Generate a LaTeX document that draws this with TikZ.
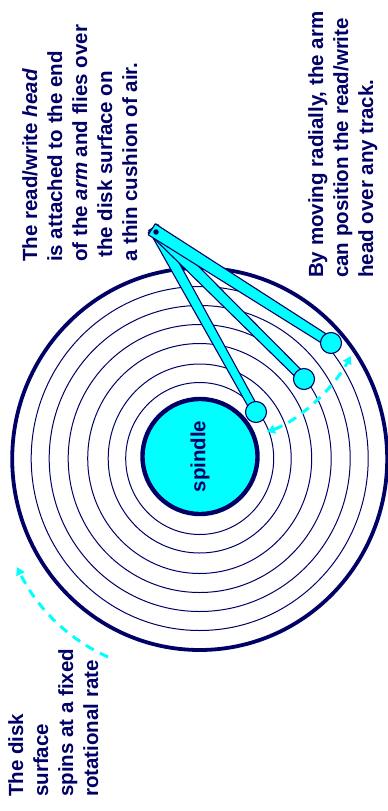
\documentclass[tikz,border=0pt]{standalone}
\definecolor{disknavy}{RGB}{0, 0, 102}
\definecolor{diskcyan}{RGB}{0, 255, 255}
\usepackage{tikz}
\usetikzlibrary{shapes.geometric, arrows.meta, calc}
\usepackage{xcolor}
\usepackage{fontspec}
\setmainfont{Liberation Sans}

\begin{document}
\begin{tikzpicture}[
        x=1pt, y=-1pt,
        ring/.style={ellipse, draw=disknavy, line width=1pt, inner sep=0pt},
        rim/.style={ring, line width=3.8pt},
        spindle/.style={circle, draw=disknavy, fill=diskcyan, line width=4.4pt,
                    minimum size=115pt, inner sep=0pt, rotate=90, text=disknavy,
                    font=\bfseries\fontsize{20.5}{25}\selectfont},
        arm/.style={draw=disknavy, fill=diskcyan, line width=1.1pt, line join=round},
        headball/.style={circle, draw=disknavy, fill=diskcyan, line width=1.1pt,
                    minimum size=21pt, inner sep=0pt},
        hubdot/.style={circle, fill=disknavy, minimum size=5.5pt, inner sep=0pt},
        note/.style={rotate=90, anchor=north west, align=left, inner sep=0pt, text=disknavy,
                    font=\bfseries\fontsize{20.5}{25}\selectfont},
        sweep/.style={diskcyan, line width=3pt, dash pattern=on 9pt off 7pt,
                    arrows={-Stealth[inset=0pt, length=8pt, width=9pt]}},
        sweepboth/.style={sweep, arrows={Stealth[inset=0pt, length=8pt, width=9pt]-Stealth[inset=0pt, length=8pt, width=9pt]}}
      ]
        \useasboundingbox (0,0) rectangle (388,811);
        \foreach \n/\w/\h in {1/148/152, 2/183/189, 3/224/230, 4/263/268, 5/301/306, 6/337/344}
          \node[ring, minimum width=\w pt, minimum height=\h pt] (ring\n) at (199.7,458.5) {};
        \node[rim, minimum width=375pt, minimum height=382pt] (rim) at (199.7,459) {};
        \node[spindle] (hub) at (200,456.5) {\raisebox{-2pt}{spindle}};

        \coordinate (pivot) at (156,232);
        \coordinate (inner) at (256,412);
        \coordinate (middle) at (304,379);
        \coordinate (outer) at (331,343);
        \foreach \h/\w/\t in {inner/5.5/4.2, middle/6/4.5, outer/6.5/5} {
          \coordinate (back) at ($(pivot)!-5pt!(\h)$);
          \draw[arm] ($(back)!\w pt!90:(\h)$) -- ($(back)!\w pt!-90:(\h)$)
            -- ($(\h)!\t pt!90:(back)$) -- ($(\h)!\t pt!-90:(back)$) -- cycle;
        }
        \node[headball] (innerhead) at (inner) {};
        \node[headball] (middlehead) at (middle) {};
        \node[headball] (outerhead) at (outer) {};
        \node[hubdot] (pivotdot) at (pivot) {};

        \coordinate (seekfrom) at (267,432);
        \coordinate (seekto) at (351,356);
        \draw[sweepboth] (seekfrom) .. controls (297,421) and (331,392) .. (seekto);
        \coordinate (spinfrom) at (108,657);
        \coordinate (spinto) at (17,567);
        \draw[sweep] (spinfrom) .. controls (70,640) and (38,610) .. (spinto);

        \node[note] (headnote) at (22,262) {The read/write \textit{head}\\is attached to the end\\of the \textit{arm} and flies over\\\hspace*{4pt}the disk surface on\\a thin cushion of air.};
        \node[note] (seeknote) at (308,278) {By moving radially, the arm\\can position the read/write\\head over any track.};
        \node[note] (spinnote) at (8,797) {The disk\\surface\\spins at a fixed\\rotational rate};
\end{tikzpicture}
\end{document}
